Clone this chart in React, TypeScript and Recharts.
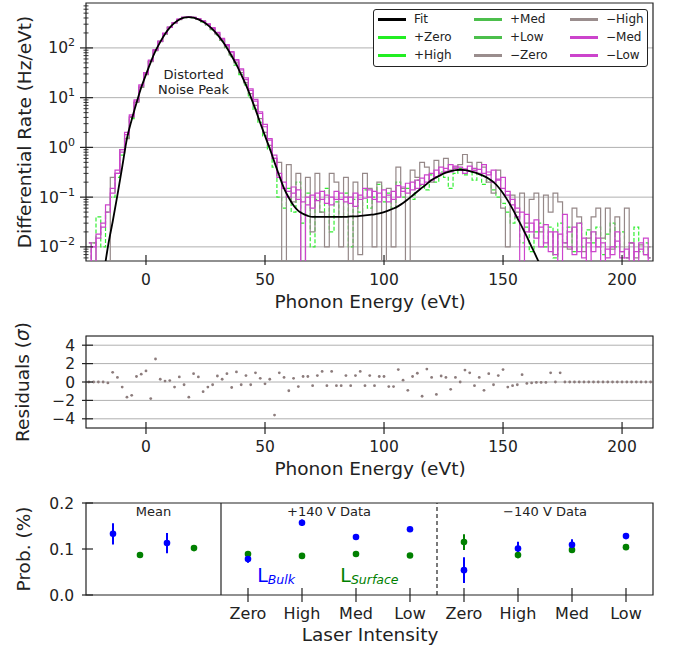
import React from "react";
import {
  ComposedChart,
  ScatterChart,
  Line,
  Scatter,
  ErrorBar,
  XAxis,
  YAxis,
  CartesianGrid,
  ReferenceArea,
  ReferenceDot,
  ReferenceLine,
} from "recharts";

const FONT = '"DejaVu Sans", sans-serif';
const INK = "#222";
const GRID = "#b0b0b0";

// histogram bins (eVt)
const BIN_START = -24;
const BIN_WIDTH = 2;

// differential rate, Hz/eVt, one value per bin (0 = empty bin)
const fitRate = [
  0, 0, 0, 0.002, 0.01, 0.032, 0.11, 0.4, 1.5, 3.6,
  7.8, 16, 29, 52, 87, 132, 191, 256, 318, 373,
  407, 417, 405, 376, 336, 287, 235, 185, 139, 100,
  69, 46, 29, 18, 10.4, 5.8, 3.1, 1.7, 0.95, 0.5,
  0.27, 0.15, 0.097, 0.068, 0.053, 0.046, 0.042, 0.04, 0.04, 0.04,
  0.04, 0.04, 0.04, 0.04, 0.04, 0.041, 0.041, 0.042, 0.043, 0.044,
  0.045, 0.047, 0.05, 0.054, 0.059, 0.066, 0.076, 0.09, 0.108, 0.13,
  0.155, 0.185, 0.22, 0.25, 0.28, 0.31, 0.335, 0.35, 0.355, 0.35,
  0.335, 0.315, 0.29, 0.265, 0.235, 0.2, 0.16, 0.12, 0.085, 0.058,
  0.038, 0.025, 0.016, 0.01, 0.0063, 0.0038, 0.002, 0, 0, 0,
  0, 0, 0, 0, 0, 0, 0, 0, 0, 0,
  0, 0, 0, 0, 0, 0, 0, 0, 0,
];

const plusZeroRate = [
  0, 0.012, 0.04, 0.01, 0.05, 0.1, 0.25, 0.7, 1.6, 3.8,
  8, 16, 30, 54, 88, 135, 192, 258, 320, 372,
  408, 416, 404, 375, 333, 285, 232, 182, 136, 98,
  67, 45, 29, 18, 10, 5.8, 3.2, 1.7, 0.9, 0.4,
  0.1, 0.06, 0.15, 0.05, 0.2, 0.03, 0.12, 0.01, 0.09, 0.05,
  0.15, 0.02, 0.08, 0.04, 0.12, 0.01, 0.09, 0.05, 0.14, 0.06,
  0.1, 0.18, 0.08, 0.12, 0.06, 0.2, 0.1, 0.15, 0.09, 0.22,
  0.17, 0.14, 0.28, 0.2, 0.32, 0.25, 0.15, 0.3, 0.38, 0.28,
  0.33, 0.22, 0.3, 0.18, 0.22, 0.14, 0.1, 0.075, 0.05, 0.03,
  0.04, 0.012, 0.025, 0.008, 0.02, 0.03, 0.01, 0.025, 0.006, 0.03,
  0.012, 0.025, 0.008, 0.03, 0.01, 0.022, 0.012, 0.025, 0.007, 0.018,
  0.03, 0.01, 0.02, 0.006, 0.012, 0.025, 0.008, 0.012, 0.006,
];

const minusZeroRate = [
  0.012, 0.012, 0, 0, 0, 0.25, 0.3, 0.9, 1.5, 4,
  8, 16, 29, 53, 88, 133, 190, 258, 318, 372,
  410, 418, 405, 380, 340, 292, 240, 190, 143, 105,
  72, 50, 32, 20, 12, 7, 3.8, 2, 1.1, 0.6,
  0.5, 0, 0.45, 0.08, 0.3, 0, 0.25, 0.02, 0.3, 0.05,
  0.01, 0.3, 0.2, 0.01, 0.25, 0, 0.2, 0.007, 0.3, 0.15,
  0.01, 0.2, 0, 0.15, 0.01, 0.4, 0.15, 0, 0.35, 0.25,
  0.5, 0.4, 0.2, 0.55, 0.3, 0.6, 0.35, 0.4, 0.45, 0.72,
  0.5, 0.35, 0.5, 0.4, 0.2, 0.12, 0.35, 0.06, 0.01, 0.11,
  0.05, 0.12, 0.03, 0.09, 0.12, 0.02, 0.11, 0.05, 0.12, 0.08,
  0.01, 0.009, 0.06, 0.04, 0.008, 0.015, 0.04, 0.06, 0.015, 0.06,
  0.009, 0.04, 0.008, 0.06, 0.012, 0.006, 0.011, 0.007, 0.01,
];

const minusMedRate = [
  0, 0.01, 0.015, 0.03, 0.07, 0.15, 0.35, 0.9, 2, 4.5,
  9, 18, 32, 57, 92, 137, 198, 262, 322, 378,
  412, 422, 412, 388, 350, 305, 255, 205, 155, 116,
  84, 58, 38, 25, 15, 9.2, 5.2, 2.9, 1.5, 0.7,
  0.25, 0.15, 0.1, 0.12, 0.14, 0.08, 0.1, 0.06, 0.12, 0.09,
  0.11, 0.07, 0.13, 0.09, 0.1, 0.075, 0.12, 0.09, 0.15, 0.1,
  0.13, 0.08, 0.14, 0.11, 0.09, 0.17, 0.13, 0.19, 0.14, 0.22,
  0.18, 0.28, 0.22, 0.35, 0.3, 0.38, 0.32, 0.42, 0.35, 0.37,
  0.33, 0.38, 0.36, 0.3, 0.32, 0.2, 0.23, 0.15, 0.11, 0.07,
  0.04, 0.05, 0.02, 0.03, 0.015, 0.025, 0.012, 0.02, 0.007, 0.018,
  0.012, 0.02, 0.025, 0.008, 0.015, 0, 0.02, 0.01, 0.012, 0.006,
  0.01, 0.02, 0.008, 0.006, 0.012, 0, 0.009, 0.015, 0.006,
];

const minusLowRate = [
  0.012, 0, 0.018, 0.025, 0.05, 0.12, 0.3, 0.8, 1.8, 4.2,
  8.5, 17, 30, 55, 90, 135, 195, 260, 320, 375,
  410, 420, 410, 385, 345, 300, 250, 200, 150, 112,
  80, 55, 36, 23, 14, 8.5, 4.8, 2.6, 1.4, 0.6,
  0.3, 0.2, 0.13, 0.16, 0.09, 0, 0.07, 0.11, 0.085, 0.13,
  0.075, 0.1, 0.09, 0.12, 0.08, 0.1, 0.065, 0.11, 0.095, 0.14,
  0.09, 0.12, 0.1, 0.08, 0.13, 0.1, 0.16, 0.12, 0.2, 0.15,
  0.24, 0.2, 0.3, 0.26, 0.4, 0.33, 0.45, 0.38, 0.4, 0.3,
  0.42, 0.34, 0.3, 0.45, 0.28, 0.35, 0.22, 0.25, 0.13, 0.09,
  0.06, 0, 0.045, 0.02, 0.035, 0.01, 0.028, 0.008, 0.02, 0,
  0.045, 0.01, 0.007, 0.03, 0.006, 0.012, 0.008, 0.015, 0, 0.009,
  0.007, 0.013, 0.006, 0.009, 0, 0.008, 0.012, 0.007, 0,
];

// residuals in sigma, same bins
const residuals = [
  0, 0, 0, 0, -0.1, 1.05, 0.5, -0.55, -1.65, -1.45,
  0.6, 0.85, 1.2, -1.8, 2.5, 0.3, 0.1, 0.15, -0.55, 0.55,
  -0.3, -1.65, 0.9, 0.55, -1.05, -0.55, -0.3, 0.65, 0.3, 0.9,
  -0.6, 1.1, -0.3, 0.7, -0.3, 1.0, 0.4, -0.2, 0.3, -3.6,
  1.0, 0.5, -0.95, 0.4, -0.5, 0.6, 0.6, -0.4, 0.7, 1.15,
  -0.4, 1.15, -0.4, -0.4, 0.7, -0.4, 0.7, 1.15, -0.4, 0.7,
  -0.4, 0.6, 0.6, -0.5, -0.5, 1.35, 0.2, -0.9, 0.6, 0.95,
  -1.55, 1.4, 0.5, -1.35, 0.65, 0.5, -0.8, 0.5, 0, 1.3,
  1.0, -0.4, 0.5, -0.9, 0.9, -0.3, 0.7, 1.35, -0.55, -0.4,
  -0.3, 0.8, -0.15, -0.1, -0.05, -0.05, -0.05, 1.0, 0, 1.0,
  0, 0, 0, 0, 0, 0, 0, 0, 0, 0,
  0, 0, 0, 0, 0, 0, 0, 0, 0,
];

const legendNames = ["Fit", "+Zero", "+High", "+Med", "+Low", "\u2212Zero", "\u2212High", "\u2212Med", "\u2212Low"];
const legendColors = ["#000000", "#22ee22", "#22ee22", "#4cbf4c", "#4cbf4c", "#9a8d8d", "#9a8d8d", "#cc44cc", "#cc44cc"];

// bottom panel: probabilities (%)
const laserLevels = ["Zero", "High", "Med", "Low", "Zero", "High", "Med", "Low"];
const bulkProb = [0.078, 0.157, 0.126, 0.143, 0.054, 0.101, 0.109, 0.128];
const bulkErr = [0.008, 0.007, 0.006, 0.003, 0.028, 0.015, 0.012, 0.004];
const surfaceProb = [0.089, 0.085, 0.089, 0.086, 0.115, 0.087, 0.098, 0.104];
const surfaceErr = [0.005, 0.003, 0.002, 0.002, 0.017, 0.007, 0.006, 0.004];
const meanBulk = [0.133, 0.113];
const meanBulkErr = [0.023, 0.022];
const meanSurface = [0.087, 0.102];
const meanSurfaceErr = [0.002, 0.005];

const E_DOMAIN: [number, number] = [-25.2, 213];
const E_TICKS = [0, 50, 100, 150, 200];
const RATE_DOMAIN: [number, number] = [0.0052, 800];
const RATE_MAJOR = [0.01, 0.1, 1, 10, 100];
const RATE_MINOR = [
  0.006, 0.007, 0.008, 0.009,
  0.02, 0.03, 0.04, 0.05, 0.06, 0.07, 0.08, 0.09,
  0.2, 0.3, 0.4, 0.5, 0.6, 0.7, 0.8, 0.9,
  2, 3, 4, 5, 6, 7, 8, 9,
  20, 30, 40, 50, 60, 70, 80, 90,
  200, 300, 400, 500, 600, 700,
];
const FLOOR = 1e-4; // empty bins drop below the axis

const show = (v: number) => (v > 0 ? v : FLOOR);
const spectrumRows = fitRate.map((f, i) => ({
  e: BIN_START + i * BIN_WIDTH,
  fit: show(f),
  pZero: show(plusZeroRate[i]),
  mZero: show(minusZeroRate[i]),
  mMed: show(minusMedRate[i]),
  mLow: show(minusLowRate[i]),
}));
const residualRows = residuals.map((r, i) => ({ e: BIN_START + i * BIN_WIDTH, r }));

const bulkRows = [
  ...meanBulk.map((y, i) => ({ x: -2.5 + i, y, err: meanBulkErr[i] })),
  ...bulkProb.map((y, i) => ({ x: i, y, err: bulkErr[i] })),
];
const surfaceRows = [
  ...meanSurface.map((y, i) => ({ x: -2 + i, y, err: meanSurfaceErr[i] })),
  ...surfaceProb.map((y, i) => ({ x: i, y, err: surfaceErr[i] })),
];

const minus = (v: number) => (v < 0 ? `\u2212${-v}` : `${v}`);

type TickStyle = { inner: number; outer: number; size: number; gap: number; label?: (v: number) => React.ReactNode };

const xTick = (s: TickStyle) => (p: any) => {
  const v = p.payload.value;
  return (
    <g>
      <line x1={p.x} x2={p.x} y1={p.y - s.inner} y2={p.y + s.outer} stroke={INK} strokeWidth={1.2} />
      <text x={p.x} y={p.y + s.gap} textAnchor="middle" fontSize={s.size} fontFamily={FONT} fill={INK}>
        {s.label ? s.label(v) : v}
      </text>
    </g>
  );
};

const yTick = (s: TickStyle) => (p: any) => {
  const v = p.payload.value;
  return (
    <g>
      <line x1={p.x - s.outer} x2={p.x + s.inner} y1={p.y} y2={p.y} stroke={INK} strokeWidth={1.2} />
      <text x={p.x - s.gap} y={p.y} dy="0.36em" textAnchor="end" fontSize={s.size} fontFamily={FONT} fill={INK}>
        {s.label ? s.label(v) : v}
      </text>
    </g>
  );
};

// log axis: labelled decades, short unlabelled minor ticks
const logTick = (p: any) => {
  const v = p.payload.value;
  const major = RATE_MAJOR.includes(v);
  if (!major) {
    return <line x1={p.x - 2.5} x2={p.x + 2.5} y1={p.y} y2={p.y} stroke={INK} strokeWidth={0.9} />;
  }
  return (
    <g>
      <line x1={p.x - 6} x2={p.x + 7} y1={p.y} y2={p.y} stroke={INK} strokeWidth={1.2} />
      <text x={p.x - 11} y={p.y} dy="0.36em" textAnchor="end" fontSize={15.5} fontFamily={FONT} fill={INK}>
        10
        <tspan dy={-7} fontSize={11}>
          {minus(Math.round(Math.log10(v)))}
        </tspan>
      </text>
    </g>
  );
};

const noiseLabel = (p: any) => {
  const vb = p.viewBox ?? p;
  return (
    <text x={vb.x} y={vb.y} textAnchor="middle" fontSize={13} fontFamily={FONT} fill={INK}>
      <tspan x={vb.x} dy={-3}>Distorted</tspan>
      <tspan x={vb.x} dy={15}>Noise Peak</tspan>
    </text>
  );
};

const centerText = (txt: string) => (p: any) => {
  const vb = p.viewBox ?? p;
  return (
    <text x={vb.x} y={vb.y} dy="0.36em" textAnchor="middle" fontSize={13} fontFamily={FONT} fill={INK}>
      {txt}
    </text>
  );
};

const subLabel = (main: string, sub: string, color: string) => (p: any) => {
  const vb = p.viewBox ?? p;
  return (
    <text x={vb.x} y={vb.y} fontSize={19} fontFamily={FONT} fill={color}>
      {main}
      <tspan fontSize={12.5} fontStyle="italic" dy={2}>
        {sub}
      </tspan>
    </text>
  );
};

function AxisTitle({ x, y, vertical, children }: { x: number; y: number; vertical?: boolean; children: React.ReactNode }) {
  return (
    <div
      style={{
        position: "absolute",
        left: x,
        top: y,
        transform: `translate(-50%, -50%)${vertical ? " rotate(-90deg)" : ""}`,
        whiteSpace: "nowrap",
        fontFamily: FONT,
        fontSize: 18.5,
        color: INK,
        lineHeight: 1,
      }}
    >
      {children}
    </div>
  );
}

function SpectrumLegend() {
  const cols = [4, 100, 196];
  return (
    <div
      style={{
        position: "absolute",
        left: 373,
        top: 9,
        width: 275,
        height: 58,
        boxSizing: "border-box",
        border: `1px solid ${INK}`,
        borderRadius: 3,
        background: "#fff",
        fontFamily: FONT,
        fontSize: 12,
        color: INK,
      }}
    >
      {legendNames.map((name, i) => {
        const left = cols[Math.floor(i / 3)];
        const top = 9 + 18 * (i % 3);
        return (
          <div key={name} style={{ position: "absolute", left, top: top - 8, height: 16, display: "flex", alignItems: "center" }}>
            <span style={{ display: "inline-block", width: 28, height: 3, background: legendColors[i] }} />
            <span style={{ marginLeft: 8, lineHeight: 1 }}>{name}</span>
          </div>
        );
      })}
    </div>
  );
}

const residualDot = (p: any) => <circle cx={p.cx} cy={p.cy} r={1.4} fill="#8c7c7c" />;
const bigDot = (color: string) => (p: any) => <circle cx={p.cx} cy={p.cy} r={3.3} fill={color} />;

export default function App() {
  return (
    <div style={{ position: "absolute", left: 0, top: 0, width: 673, height: 651, background: "#fff", overflow: "hidden" }}>
      {/* spectrum */}
      <div style={{ position: "absolute", left: 0, top: 0 }}>
        <ComposedChart width={673} height={320} data={spectrumRows} margin={{ top: 3, right: 20, bottom: 0, left: 0 }}>
          <CartesianGrid vertical={false} horizontalValues={RATE_MAJOR} stroke={GRID} strokeWidth={1} />
          <XAxis
            dataKey="e"
            type="number"
            domain={E_DOMAIN}
            allowDataOverflow
            ticks={E_TICKS}
            interval={0}
            height={59}
            axisLine={false}
            tickLine={false}
            tickSize={0}
            tickMargin={0}
            tick={xTick({ inner: 6, outer: 4, size: 15.5, gap: 24 })}
          />
          <YAxis
            type="number"
            scale="log"
            domain={RATE_DOMAIN}
            allowDataOverflow
            ticks={[...RATE_MINOR, ...RATE_MAJOR]}
            interval={0}
            width={86}
            axisLine={false}
            tickLine={false}
            tickSize={0}
            tickMargin={0}
            tick={logTick}
          />
          <Line dataKey="pZero" type="step" stroke="#33ee33" strokeWidth={1.2} strokeDasharray="4 2" dot={false} isAnimationActive={false} />
          <Line dataKey="mZero" type="step" stroke="#958888" strokeWidth={1.2} dot={false} isAnimationActive={false} />
          <Line dataKey="mMed" type="step" stroke="#cc44cc" strokeWidth={1.2} dot={false} isAnimationActive={false} />
          <Line dataKey="mLow" type="step" stroke="#cc44cc" strokeWidth={1.2} dot={false} isAnimationActive={false} />
          <Line dataKey="fit" type="monotone" stroke="#000" strokeWidth={1.8} dot={false} isAnimationActive={false} />
          <ReferenceDot x={20} y={21} r={0} stroke="none" fill="none" label={noiseLabel} />
          <ReferenceArea x1={E_DOMAIN[0]} x2={E_DOMAIN[1]} y1={RATE_DOMAIN[0]} y2={RATE_DOMAIN[1]} fill="none" fillOpacity={0} stroke={INK} strokeWidth={1.2} />
        </ComposedChart>
      </div>

      {/* residuals */}
      <div style={{ position: "absolute", left: 0, top: 320 }}>
        <ScatterChart width={673} height={175} margin={{ top: 16, right: 20, bottom: 0, left: 0 }}>
          <CartesianGrid vertical={false} stroke={GRID} strokeWidth={1} />
          <XAxis
            dataKey="e"
            type="number"
            domain={E_DOMAIN}
            allowDataOverflow
            ticks={E_TICKS}
            interval={0}
            height={67}
            axisLine={false}
            tickLine={false}
            tickSize={0}
            tickMargin={0}
            tick={xTick({ inner: 6, outer: 6, size: 15.5, gap: 24 })}
          />
          <YAxis
            dataKey="r"
            type="number"
            domain={[-5, 5]}
            ticks={[-4, -2, 0, 2, 4]}
            interval={0}
            width={86}
            axisLine={false}
            tickLine={false}
            tickSize={0}
            tickMargin={0}
            tick={yTick({ inner: 7, outer: 4, size: 15.5, gap: 11, label: minus })}
          />
          <Scatter data={residualRows} shape={residualDot} isAnimationActive={false} />
          <ReferenceArea x1={E_DOMAIN[0]} x2={E_DOMAIN[1]} y1={-5} y2={5} fill="none" fillOpacity={0} stroke={INK} strokeWidth={1.2} />
        </ScatterChart>
      </div>

      {/* probabilities */}
      <div style={{ position: "absolute", left: 0, top: 495 }}>
        <ScatterChart width={673} height={156} margin={{ top: 8, right: 20, bottom: 0, left: 0 }}>
          <XAxis
            dataKey="x"
            type="number"
            domain={[-3, 7.5]}
            allowDataOverflow
            ticks={[0, 1, 2, 3, 4, 5, 6, 7]}
            interval={0}
            height={56}
            axisLine={false}
            tickLine={false}
            tickSize={0}
            tickMargin={0}
            tick={xTick({ inner: 7, outer: 7, size: 16, gap: 24, label: (v) => laserLevels[v] })}
          />
          <YAxis
            dataKey="y"
            type="number"
            domain={[0, 0.2]}
            allowDataOverflow
            ticks={[0, 0.1, 0.2]}
            interval={0}
            width={86}
            axisLine={false}
            tickLine={false}
            tickSize={0}
            tickMargin={0}
            tick={yTick({ inner: 7, outer: 4, size: 15.5, gap: 12, label: (v) => v.toFixed(1) })}
          />
          <ReferenceLine x={-0.5} stroke={INK} strokeWidth={1.2} />
          <ReferenceLine x={3.5} stroke={INK} strokeWidth={1.2} strokeDasharray="4 3" />
          <Scatter data={surfaceRows} shape={bigDot("#008000")} isAnimationActive={false}>
            <ErrorBar dataKey="err" direction="y" width={0} stroke="#008000" strokeWidth={2} />
          </Scatter>
          <Scatter data={bulkRows} shape={bigDot("#0000ff")} isAnimationActive={false}>
            <ErrorBar dataKey="err" direction="y" width={0} stroke="#0000ff" strokeWidth={2} />
          </Scatter>
          <ReferenceDot x={-1.75} y={0.181} r={0} stroke="none" fill="none" label={centerText("Mean")} />
          <ReferenceDot x={1.5} y={0.181} r={0} stroke="none" fill="none" label={centerText("+140 V Data")} />
          <ReferenceDot x={5.5} y={0.181} r={0} stroke="none" fill="none" label={centerText("\u2212140 V Data")} />
          <ReferenceDot x={0.17} y={0.028} r={0} stroke="none" fill="none" label={subLabel("L", "Bulk", "#0000ff")} />
          <ReferenceDot x={1.71} y={0.028} r={0} stroke="none" fill="none" label={subLabel("L", "Surface", "#008000")} />
          <ReferenceArea x1={-3} x2={7.5} y1={0} y2={0.2} fill="none" fillOpacity={0} stroke={INK} strokeWidth={1.2} />
        </ScatterChart>
      </div>

      <SpectrumLegend />

      <AxisTitle x={370} y={302}>Phonon Energy (eVt)</AxisTitle>
      <AxisTitle x={370} y={469}>Phonon Energy (eVt)</AxisTitle>
      <AxisTitle x={370} y={635}>Laser Intensity</AxisTitle>
      <AxisTitle x={25} y={132} vertical>Differential Rate (Hz/eVt)</AxisTitle>
      <AxisTitle x={23} y={382} vertical>
        Residuals (<span style={{ fontStyle: "italic" }}>σ</span>)
      </AxisTitle>
      <AxisTitle x={24} y={549} vertical>Prob. (%)</AxisTitle>
    </div>
  );
}
